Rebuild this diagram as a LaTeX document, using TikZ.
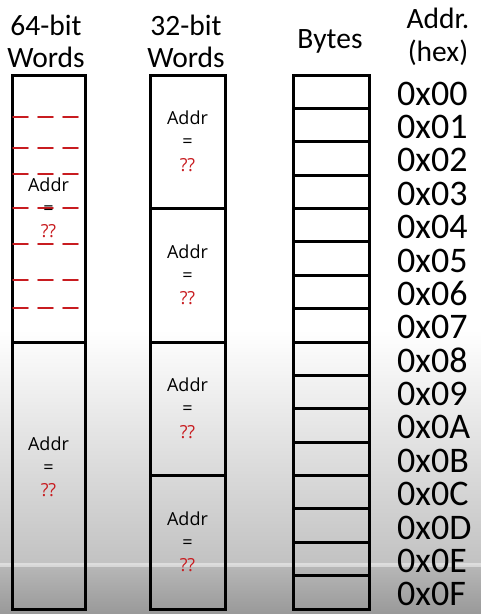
\documentclass[tikz,border=0pt]{standalone}
\usepackage{fontspec}
\setmainfont{Carlito}
\newfontfamily\labfont{Open Sans}
\definecolor{qred}{RGB}{200,28,32}
\begin{document}
\begin{tikzpicture}[x=1pt,y=-1pt,
  cellbox/.style={draw=black,line width=3pt,inner sep=0pt,minimum width=#1},
  head/.style={font=\fontsize{29.5}{31}\selectfont,anchor=base,inner sep=0pt},
  hexlab/.style={font=\fontsize{36}{38}\selectfont,anchor=base west,inner sep=0pt},
  lab/.style={font=\labfont\fontsize{18}{20}\selectfont,anchor=base,inner sep=0pt},
  qlab/.style={lab,text=qred},
  rdash/.style={draw=qred,line width=1.6pt,dash pattern=on 15pt off 10pt,line cap=round}]
\useasboundingbox (0,0) rectangle (481,614);
% background
\fill[white] (0,0) rectangle (481,330);
\shade[top color=white,bottom color=black!24] (0,330) rectangle (481,565);
\shade[top color=black!28,bottom color=black!40] (0,565) rectangle (481,614);
\fill[white,opacity=0.45] (0,563) rectangle (481,567);
% headers
\node[head] (h64a) at (46,35) {64-bit};
\node[head] (h64b) at (46,67) {Words};
\node[head] (h32a) at (186,35) {32-bit};
\node[head] (h32b) at (186,67) {Words};
\node[head] (hby) at (330,48) {Bytes};
\node[head] (had) at (438,28) {Addr.};
\node[head] (hhx) at (438,61) {(hex)};
% 64-bit words
\node[cellbox=73pt,minimum height=267pt] (w64a) at (48.5,208.5) {};
\node[cellbox=73pt,minimum height=267pt] (w64b) at (48.5,475.5) {};
% dashed byte guides
\foreach \yy [count=\i] in {117,148,174,208,244,280,308}
  \draw[rdash] (13,\yy) coordinate (dl\i) -- (80,\yy) coordinate (dr\i);
% labels 64
\node[lab] (l64a1) at (48.5,191.5) {Addr};
\node[lab] (l64a2) at (48.5,214) {=};
\node[qlab] (l64a3) at (48.5,237.5) {??};
\node[lab] (l64b1) at (48.5,450) {Addr};
\node[lab] (l64b2) at (48.5,473) {=};
\node[qlab] (l64b3) at (48.5,496.5) {??};
% 32-bit words
\foreach \k in {0,1,2,3}{
  \pgfmathsetmacro{\cy}{75+66.75+133.5*\k}
  \node[cellbox=75pt,minimum height=133.5pt] (w32\k) at (187.5,\cy) {};
  \node[lab] (l32\k a) at (187.5,\cy-17) {Addr};
  \node[lab] (l32\k b) at (187.5,\cy+6) {=};
  \node[qlab] (l32\k c) at (187.5,\cy+29.5) {??};
}
% bytes and addresses
\foreach \k/\t in {0/0x00,1/0x01,2/0x02,3/0x03,4/0x04,5/0x05,6/0x06,7/0x07,8/0x08,9/0x09,10/0x0A,11/0x0B,12/0x0C,13/0x0D,14/0x0E,15/0x0F}{
  \pgfmathsetmacro{\cy}{75+16.6875+33.375*\k}
  \node[cellbox=76pt,minimum height=33.375pt] (b\k) at (331,\cy) {};
  \node[hexlab] (a\k) at (397,\cy+13.5) {\t};
}
\end{tikzpicture}
\end{document}
